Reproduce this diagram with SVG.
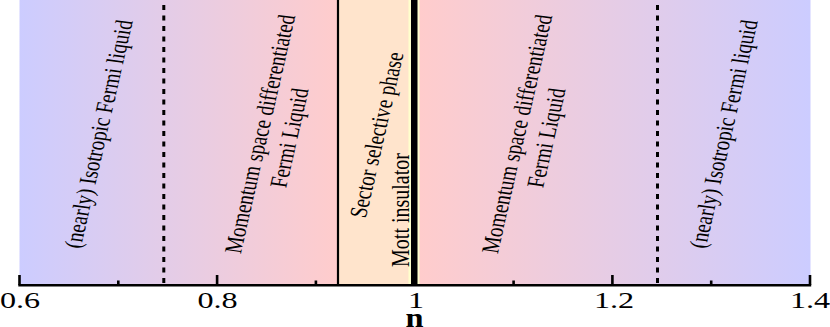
<svg xmlns="http://www.w3.org/2000/svg" width="830" height="327" viewBox="0 0 830 327">
<defs>
<linearGradient id="gl" gradientUnits="userSpaceOnUse" x1="19.5" y1="0" x2="338" y2="0">
<stop offset="0" stop-color="#ccccff"/><stop offset="1" stop-color="#ffcccc"/>
</linearGradient>
<linearGradient id="gr" gradientUnits="userSpaceOnUse" x1="419" y1="0" x2="810" y2="0">
<stop offset="0" stop-color="#ffcccc"/><stop offset="1" stop-color="#ccccff"/>
</linearGradient>
</defs>
<style>
.lbl{font-family:"Liberation Serif","Times New Roman",serif;font-size:19px;fill:#000;text-anchor:middle}
.tick{font-family:"Liberation Serif","Times New Roman",serif;font-size:23px;fill:#000;text-anchor:middle}
.ax{stroke:#000;stroke-width:2.6;fill:none}
.dash{stroke:#000;stroke-width:3;stroke-dasharray:5 5.5;fill:none}
</style>
<rect width="830" height="327" fill="#ffffff"/>
<g id="regions">
<rect x="19.5" y="0" width="319" height="284.5" fill="url(#gl)"/>
<rect x="338" y="0" width="71" height="284.5" fill="#ffe4cc"/>
<rect x="408.5" y="0" width="11.5" height="284.5" fill="#ffffcc"/>
<rect x="419.5" y="0" width="391" height="284.5" fill="url(#gr)"/>
</g>
<g id="connectors">
<line class="dash" x1="163.8" y1="5" x2="163.8" y2="284"/>
<line class="dash" x1="657.5" y1="5" x2="657.5" y2="284"/>
<line x1="338" y1="0" x2="338" y2="284" stroke="#000" stroke-width="2.2"/>
<rect x="411" y="0" width="6.5" height="285" fill="#000"/>
</g>
<g id="axis">
<line class="ax" x1="18.3" y1="285.3" x2="811.2" y2="285.3"/>
<path class="ax" d="M19.5 285 V275 M217.1 285 V275 M414.7 285 V275 M612.4 285 V275 M810 285 V275 M118.3 285 V280.5 M315.9 285 V280.5 M513.6 285 V280.5 M711.2 285 V280.5"/>
<text class="tick" transform="translate(20,308) scale(1.4,1)">0.6</text>
<text class="tick" transform="translate(217.5,308) scale(1.4,1)">0.8</text>
<text class="tick" transform="translate(416,308) scale(1.4,1)">1</text>
<text class="tick" transform="translate(614,308) scale(1.4,1)">1.2</text>
<text class="tick" transform="translate(810,308) scale(1.4,1)">1.4</text>
<text transform="translate(414.5,327) scale(1.2,1)" style="font-family:'Liberation Serif','Times New Roman',serif;font-size:27px;font-weight:bold;text-anchor:middle">n</text>
</g>
<g id="node-iso-left">
<text class="lbl" transform="translate(99,134) scale(1.3,1) rotate(-80)" y="6">(nearly) Isotropic Fermi liquid</text>
</g>
<g id="node-msd-left">
<g transform="translate(275,136) scale(1.3,1) rotate(-80)">
<text class="lbl" y="-5.5">Momentum space differentiated</text>
<text class="lbl" y="17.5">Fermi Liquid</text>
</g>
</g>
<g id="node-sector">
<text class="lbl" transform="translate(377,135) scale(1.3,1) rotate(-80)" y="6">Sector selective phase</text>
</g>
<g id="node-mott">
<text class="lbl" style="font-size:20px" transform="translate(409,210) scale(1.3,1) rotate(-90)">Mott insulator</text>
</g>
<g id="node-msd-right">
<g transform="translate(532,136) scale(1.3,1) rotate(-80)">
<text class="lbl" y="-5.5">Momentum space differentiated</text>
<text class="lbl" y="17.5">Fermi Liquid</text>
</g>
</g>
<g id="node-iso-right">
<text class="lbl" transform="translate(724,134) scale(1.3,1) rotate(-80)" y="6">(nearly) Isotropic Fermi liquid</text>
</g>
</svg>
